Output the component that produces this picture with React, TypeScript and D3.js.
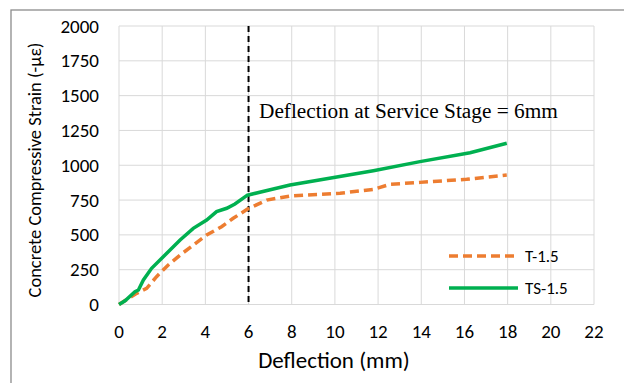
import React from 'react';
import * as d3 from 'd3';

// T-1.5 (dashed orange)
const tDefl = [0, 0.3, 0.82, 1.28, 1.74, 2.28, 2.83, 3.44, 4.06, 4.75, 5.29, 5.95, 6.84, 7.92, 10.24, 11.78, 12.55, 13.94, 16.1, 17.96];
const tStrain = [0, 30, 80, 116, 200, 284, 355, 427, 499, 559, 619, 685, 750, 779, 799, 827, 863, 877, 899, 930];

// TS-1.5 (solid green)
const tsDefl = [0, 0.28, 0.74, 0.9, 1.13, 1.51, 2.05, 2.83, 3.44, 4.06, 4.52, 4.99, 5.37, 5.95, 7.92, 11.78, 13.94, 16.26, 17.96];
const tsStrain = [0, 27, 92, 104, 176, 260, 343, 463, 547, 607, 667, 691, 722, 785, 858, 961, 1026, 1090, 1158];

const xTicks = [0, 2, 4, 6, 8, 10, 12, 14, 16, 18, 20, 22];
const yTicks = [0, 250, 500, 750, 1000, 1250, 1500, 1750, 2000];

const seriesNames = ['T-1.5', 'TS-1.5'];
const annotation = 'Deflection at Service Stage = 6mm';
const serviceDefl = 6;

const W = 624;
const H = 383;
const left = 119;
const right = 594;
const top = 26;
const bottom = 304.5;

const font = "Carlito, Calibri, Lato, 'Open Sans', sans-serif";

export default function App() {
  const x = d3.scaleLinear().domain([0, 22]).range([left, right]);
  const y = d3.scaleLinear().domain([0, 2000]).range([bottom, top]);

  const line = d3
    .line<[number, number]>()
    .x((d) => x(d[0]))
    .y((d) => y(d[1]));

  const tData = tDefl.map((d, i) => [d, tStrain[i]] as [number, number]);
  const tsData = tsDefl.map((d, i) => [d, tsStrain[i]] as [number, number]);

  const orange = '#ed7d31';
  const green = '#00b050';

  return (
    <svg
      width={W}
      height={H}
      style={{ position: 'absolute', left: 0, top: 0, background: '#fff' }}
    >
      <rect x={11} y={10} width={W} height={H} fill="#fff" stroke="#8c8c8c" strokeWidth={1.3} />

      {xTicks.map((t) => (
        <line key={'gx' + t} x1={x(t)} x2={x(t)} y1={top} y2={bottom} stroke="#d9d9d9" strokeWidth={1} />
      ))}
      {yTicks.map((t) => (
        <line key={'gy' + t} x1={left} x2={right} y1={y(t)} y2={y(t)} stroke="#d9d9d9" strokeWidth={1} />
      ))}

      {xTicks.map((t) => (
        <text key={'tx' + t} x={x(t)} y={bottom + 33} textAnchor="middle" fontFamily={font} fontSize={19} fill="#000">
          {t}
        </text>
      ))}
      {yTicks.map((t) => (
        <text key={'ty' + t} x={left - 20} y={y(t) + 6.5} textAnchor="end" fontFamily={font} fontSize={19} fill="#000">
          {t}
        </text>
      ))}

      <line
        x1={x(serviceDefl)}
        x2={x(serviceDefl)}
        y1={y(2000)}
        y2={y(0)}
        stroke="#000"
        strokeWidth={2}
        strokeDasharray="6,4"
      />

      <path d={line(tData) || ''} fill="none" stroke={orange} strokeWidth={3.5} strokeDasharray="9,5" />
      <path d={line(tsData) || ''} fill="none" stroke={green} strokeWidth={3.5} />

      <text x={259} y={118} fontFamily="'Liberation Serif', 'Times New Roman', serif" fontSize={21.3} fill="#000">
        {annotation}
      </text>

      <g>
        <line x1={449} x2={518} y1={256} y2={256} stroke={orange} strokeWidth={3.5} strokeDasharray="9,5" />
        <text x={525} y={262} fontFamily={font} fontSize={17} fill="#000">{seriesNames[0]}</text>
        <line x1={449} x2={518} y1={288} y2={288} stroke={green} strokeWidth={3.5} />
        <text x={525} y={294} fontFamily={font} fontSize={17} fill="#000">{seriesNames[1]}</text>
      </g>

      <text x={334} y={368} textAnchor="middle" fontFamily={font} fontSize={23} fill="#000">
        Deflection (mm)
      </text>
      <text
        transform={`translate(41,170) rotate(-90)`}
        textAnchor="middle"
        fontFamily={font}
        fontSize={18.5}
        fill="#000"
      >
        Concrete Compressive Strain (-με)
      </text>
    </svg>
  );
}
